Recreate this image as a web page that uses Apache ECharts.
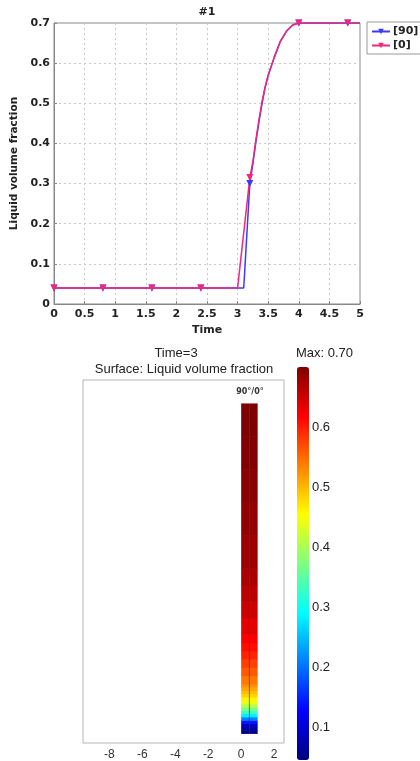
<!DOCTYPE html>
<html>
<head>
<meta charset="utf-8">
<style>html,body{margin:0;padding:0;background:#fff;}#c{width:420px;height:761px;}</style>
<script src="https://cdn.jsdelivr.net/npm/echarts@6/dist/echarts.min.js"></script>
</head>
<body>
<div id="c"></div>
<script>
// ---- top line chart data ----
const t90 = [0, 0.8, 1.6, 2.4, 3.1, 3.2, 3.25, 3.3, 3.35, 3.4, 3.45, 3.5, 3.6, 3.7, 3.8, 3.9, 4.0, 4.8, 5.0];
const v90 = [0.04, 0.04, 0.04, 0.04, 0.04, 0.30, 0.35, 0.405, 0.455, 0.50, 0.54, 0.57, 0.615, 0.655, 0.68, 0.695, 0.70, 0.70, 0.70];
const t0 = [0, 0.8, 1.6, 2.4, 3.0, 3.2, 3.25, 3.3, 3.35, 3.4, 3.45, 3.5, 3.6, 3.7, 3.8, 3.9, 4.0, 4.8, 5.0];
const v0 = [0.04, 0.04, 0.04, 0.04, 0.04, 0.315, 0.355, 0.41, 0.46, 0.505, 0.54, 0.57, 0.615, 0.655, 0.68, 0.695, 0.70, 0.70, 0.70];
const markerTimes = [0, 0.8, 1.6, 2.4, 3.2, 4.0, 4.8];
const seriesNames = ['[90]', '[0]'];

// ---- surface plot data (column profile along height) ----
const segEdges = [0, 0.2, 0.4, 0.6, 0.8, 1.0, 1.2, 1.4, 1.6, 1.8, 2.0, 2.2, 2.4, 2.6, 2.8, 3.0, 3.5, 4.0, 4.5, 5.0, 5.5, 6, 7, 8, 9, 10, 12, 14, 16, 18, 20];
const segValues = [0.05, 0.065, 0.09, 0.14, 0.21, 0.28, 0.33, 0.37, 0.41, 0.44, 0.46, 0.48, 0.495, 0.51, 0.525, 0.54, 0.56, 0.578, 0.595, 0.61, 0.62, 0.635, 0.65, 0.662, 0.672, 0.68, 0.688, 0.694, 0.698, 0.70];
const columns = [[0, 0.5], [0.5, 1.0]];   // 90° half, 0° half
const xTicks = [-8, -6, -4, -2, 0, 2];
const barTicks = [0.1, 0.2, 0.3, 0.4, 0.5, 0.6];
const cMin = 0.045, cMax = 0.70;
const jet = ['#00007F', '#0000FF', '#007FFF', '#00FFFF', '#7FFF7F', '#FFFF00', '#FF7F00', '#FF0000', '#7F0000'];

const F = 'DejaVu Sans';
const markSet = new Set(markerTimes.map(String));
function lineData(ts, vs) {
  return ts.map((t, i) => markSet.has(String(t)) ? [t, vs[i]] : { value: [t, vs[i]], symbol: 'none' });
}
const surf = [];
columns.forEach(c => {
  segValues.forEach((v, i) => surf.push([c[0], c[1], segEdges[i], segEdges[i + 1], v]));
});

const chart = echarts.init(document.getElementById('c'), null, { renderer: 'canvas' });
chart.setOption({
  animation: false,
  title: [
    { text: '#1', left: 207, top: 7, textAlign: 'center', padding: 0, textStyle: { fontFamily: F, fontSize: 11, fontWeight: 'bold', color: '#222' } },
    { text: 'Time=3', left: 176, top: 347, textAlign: 'center', padding: 0, textStyle: { fontFamily: 'Liberation Sans', fontSize: 13, fontWeight: 'normal', color: '#222' } },
    { text: 'Surface: Liquid volume fraction', left: 184, top: 363, textAlign: 'center', padding: 0, textStyle: { fontFamily: 'Liberation Sans', fontSize: 13, fontWeight: 'normal', color: '#222' } },
    { text: 'Max: 0.70', left: 296, top: 347, padding: 0, textStyle: { fontFamily: 'Liberation Sans', fontSize: 13, fontWeight: 'normal', color: '#222' } },
    { text: '90°/0°', left: 250, top: 388, textAlign: 'center', padding: 0, textStyle: { fontFamily: F, fontSize: 8, fontWeight: 'bold', color: '#333' } }
  ],
  legend: {
    data: seriesNames, orient: 'vertical', left: 367, top: 22, padding: [4, 4, 3, 4], itemGap: 3,
    itemWidth: 18, itemHeight: 7, borderColor: '#999', borderWidth: 1, borderRadius: 0,
    textStyle: { fontFamily: F, fontSize: 11, fontWeight: 'bold', color: '#222', padding: [0, 0, 0, -2] }
  },
  grid: [
    { left: 54, top: 23, width: 306, height: 281, show: true, borderColor: '#888', borderWidth: 1, backgroundColor: '#fff' },
    { left: 83, top: 380, width: 201, height: 364, show: true, borderColor: '#b5b5b5', borderWidth: 1 },
    { left: 297, top: 367, width: 12, height: 393, show: false }
  ],
  xAxis: [
    { gridIndex: 0, type: 'value', min: 0, max: 5, interval: 0.5,
      name: 'Time', nameLocation: 'middle', nameGap: 21,
      nameTextStyle: { fontFamily: F, fontSize: 11, fontWeight: 'bold', color: '#222' },
      axisLine: { lineStyle: { color: '#888' } }, axisTick: { inside: true, length: 3, lineStyle: { color: '#888' } },
      axisLabel: { fontFamily: F, fontSize: 11, fontWeight: 'bold', color: '#222', margin: 5 },
      splitLine: { show: true, lineStyle: { color: '#c8c8c8', type: [2, 3] } } },
    { gridIndex: 1, type: 'value', min: -9.6, max: 2.6,
      axisLine: { show: false }, axisTick: { show: false }, splitLine: { show: false },
      axisLabel: { customValues: xTicks, fontFamily: 'Liberation Sans', fontSize: 12, color: '#333', margin: 6 } },
    { gridIndex: 2, type: 'value', show: false, min: 0, max: 1 }
  ],
  yAxis: [
    { gridIndex: 0, type: 'value', min: 0, max: 0.7, interval: 0.1,
      name: 'Liquid volume fraction', nameLocation: 'middle', nameGap: 30,
      nameTextStyle: { fontFamily: F, fontSize: 10.5, fontWeight: 'bold', color: '#222' },
      axisLine: { show: true, lineStyle: { color: '#888' } }, axisTick: { inside: true, length: 3, lineStyle: { color: '#888' } },
      axisLabel: { fontFamily: F, fontSize: 11, fontWeight: 'bold', color: '#222', margin: 4 },
      splitLine: { show: true, lineStyle: { color: '#c8c8c8', type: [2, 3] } } },
    { gridIndex: 1, type: 'value', min: -0.55, max: 21.45, show: false },
    { gridIndex: 2, type: 'value', min: cMin, max: cMax, position: 'right',
      axisLine: { show: false }, splitLine: { show: false }, axisTick: { show: false },
      axisLabel: { customValues: barTicks, fontFamily: 'Liberation Sans', fontSize: 13, color: '#222', margin: 3, formatter: v => v.toFixed(1) } }
  ],
  visualMap: {
    type: 'continuous', seriesIndex: 2, dimension: 4, min: cMin, max: cMax,
    left: 297, top: 367, itemWidth: 12, itemHeight: 393, padding: 0,
    calculable: false, hoverLink: false, show: true, text: null, textGap: 0,
    inRange: { color: jet }
  },
  series: [
    { name: seriesNames[0], type: 'line', xAxisIndex: 0, yAxisIndex: 0, data: lineData(t90, v90),
      symbol: 'triangle', symbolSize: 7, symbolRotate: 180, showAllSymbol: true,
      itemStyle: { color: '#3a3aff' }, lineStyle: { color: '#3a3aff', width: 1.5 } },
    { name: seriesNames[1], type: 'line', xAxisIndex: 0, yAxisIndex: 0, data: lineData(t0, v0),
      symbol: 'triangle', symbolSize: 7, symbolRotate: 180, showAllSymbol: true,
      itemStyle: { color: '#f0287a' }, lineStyle: { color: '#f0287a', width: 1.5 } },
    { type: 'custom', xAxisIndex: 1, yAxisIndex: 1, data: surf, encode: { x: [0, 1], y: [2, 3] },
      renderItem: function (params, api) {
        const a = api.coord([api.value(0), api.value(3)]);
        const b = api.coord([api.value(1), api.value(2)]);
        return { type: 'rect', shape: { x: a[0], y: a[1] - 0.5, width: b[0] - a[0], height: b[1] - a[1] + 0.5 },
          style: { fill: api.visual('color'), stroke: null } };
      } },
    { type: 'line', xAxisIndex: 1, yAxisIndex: 1, data: [[0.5, 0], [0.5, 20]], symbol: 'none',
      lineStyle: { color: 'rgba(60,0,0,0.55)', width: 1 }, z: 5 }
  ]
});
</script>
</body>
</html>
